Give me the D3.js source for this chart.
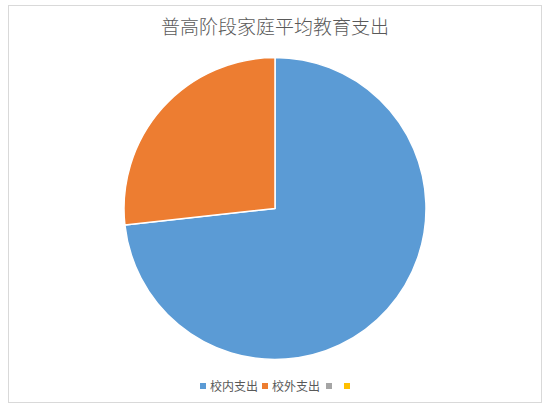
<!DOCTYPE html>
<html>
<head>
<meta charset="utf-8">
<script src="https://cdn.jsdelivr.net/npm/d3@7"></script>
<style>
  body { margin: 0; background: #fff; }
  svg { display: block; }
</style>
</head>
<body>
<div id="chart"></div>
<script>
// Chart data
const categories = ["校内支出", "校外支出", "", ""];
const values = [73.25, 26.75];
const colors = ["#5B9BD5", "#ED7D31", "#A5A5A5", "#FFC000"];
const title = "普高阶段家庭平均教育支出";

const width = 550;
const height = 412;

const svg = d3.select("#chart")
  .append("svg")
  .attr("width", width)
  .attr("height", height);

// Chart area border
svg.append("rect")
  .attr("x", 8.5)
  .attr("y", 5.5)
  .attr("width", 533)
  .attr("height", 397)
  .attr("fill", "#fff")
  .attr("stroke", "#d9d9d9")
  .attr("stroke-width", 1);

// Title
svg.append("text")
  .attr("x", 275)
  .attr("y", 34)
  .attr("text-anchor", "middle")
  .style("font-family", "'Noto Sans CJK SC', sans-serif")
  .style("font-size", "19px")
  .style("font-weight", 300)
  .style("fill", "#595959")
  .text(title);

// Pie
const pieData = values.map((v, i) => ({ name: categories[i], value: v, color: colors[i] }));
const pie = d3.pie().sort(null).value((d) => d.value);
const arc = d3.arc().innerRadius(0).outerRadius(151);

const g = svg.append("g")
  .attr("transform", "translate(275,208.5)");

g.selectAll("path")
  .data(pie(pieData))
  .join("path")
  .attr("d", arc)
  .attr("fill", (d) => d.data.color)
  .attr("stroke", "#fff")
  .attr("stroke-width", 1.5)
  .attr("stroke-linejoin", "round");

// Legend
const legendX = [200, 262, 326, 344];
const legend = svg.append("g");

const items = legend.selectAll("g")
  .data(categories)
  .join("g")
  .attr("transform", (d, i) => `translate(${legendX[i]},380)`);

items.append("rect")
  .attr("x", 0)
  .attr("y", 3)
  .attr("width", 6)
  .attr("height", 6)
  .attr("fill", (d, i) => colors[i]);

items.append("text")
  .attr("x", 10)
  .attr("y", 10.5)
  .style("font-family", "'Noto Sans CJK SC', sans-serif")
  .style("font-size", "12px")
  .style("fill", "#595959")
  .text((d) => d);
</script>
</body>
</html>
